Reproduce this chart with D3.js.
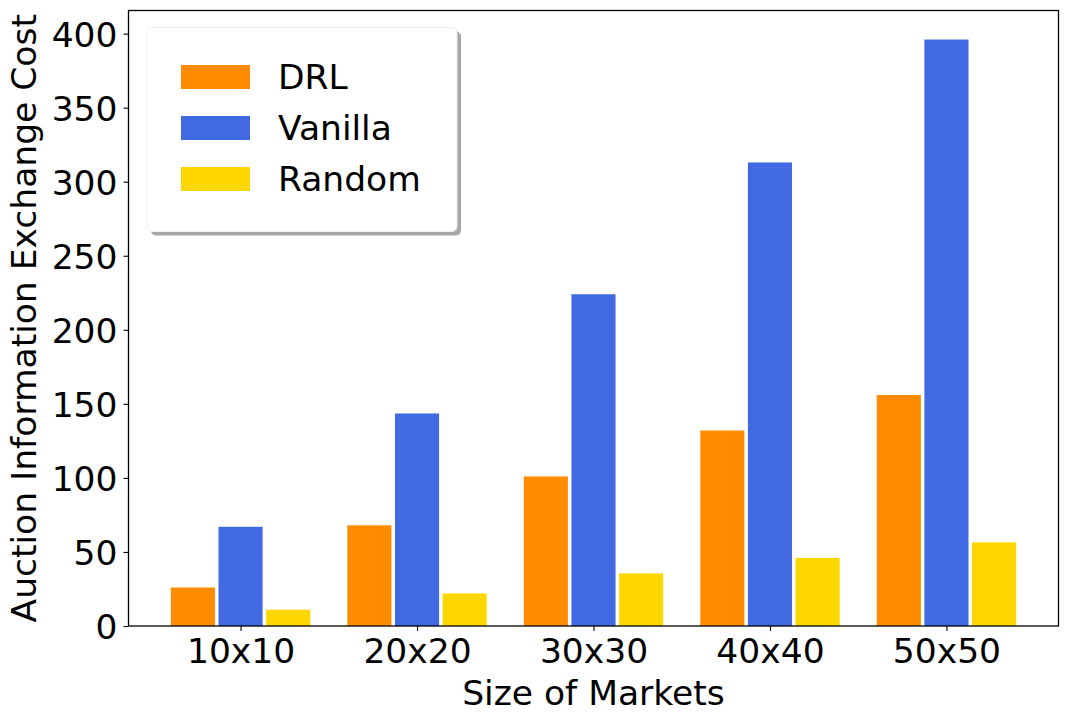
<!DOCTYPE html>
<html>
<head>
<meta charset="utf-8">
<script src="https://cdn.jsdelivr.net/npm/d3@7"></script>
<style>
  body { margin: 0; background: #fff; }
  text { font-family: "DejaVu Sans", sans-serif; }
</style>
</head>
<body>
<div id="chart"></div>
<script>
// chart data
var markets = ["10x10", "20x20", "30x30", "40x40", "50x50"];
var drl     = [26, 68, 101, 132, 156];
var vanilla = [67, 143.5, 224, 313, 396];
var random  = [11, 22, 35.5, 46, 56.5];
var seriesNames = ["DRL", "Vanilla", "Random"];
var yTicks = [0, 50, 100, 150, 200, 250, 300, 350, 400];

var colors = {DRL: "#ff8c00", Vanilla: "#4169e1", Random: "#ffd700"};
var seriesVals = {DRL: drl, Vanilla: vanilla, Random: random};
var offsets = {DRL: -0.27, Vanilla: 0, Random: 0.27};
var barW = 0.25;

var W = 1068, H = 722;
var pLeft = 128.5, pRight = 1058.5, pTop = 10.5, pBottom = 626;
var fs = 34.5;

var svg = d3.select("#chart").append("svg")
    .attr("width", W).attr("height", H);

var x = d3.scaleLinear().domain([-0.635, 4.635]).range([pLeft, pRight]);
var y = d3.scaleLinear().domain([0, 415.6]).range([pBottom, pTop]);

// bars
seriesNames.forEach(function(s){
  svg.append("g").selectAll("rect")
    .data(seriesVals[s])
    .enter().append("rect")
    .attr("x", (d,i) => x(i + offsets[s] - barW/2))
    .attr("width", x(barW) - x(0))
    .attr("y", d => y(d))
    .attr("height", d => y(0) - y(d))
    .attr("fill", colors[s]);
});

// axes
var xAxis = d3.axisBottom(x).tickValues(d3.range(markets.length))
    .tickFormat(i => markets[i]).tickSize(5).tickPadding(6);
var gx = svg.append("g").attr("transform", "translate(0," + pBottom + ")").call(xAxis);
gx.select(".domain").remove();

var yAxis = d3.axisLeft(y).tickValues(yTicks).tickSize(5).tickPadding(6);
var gy = svg.append("g").attr("transform", "translate(" + pLeft + ",0)").call(yAxis);
gy.select(".domain").remove();

[gx, gy].forEach(function(g){
  g.selectAll("text").attr("font-size", fs).attr("font-family", "DejaVu Sans").attr("fill", "#000");
  g.selectAll("line").attr("stroke", "#000").attr("stroke-width", 1.1);
});
gy.selectAll("text").attr("dy", "0.36em");
gx.selectAll("text").attr("dy", "0.76em");

// frame
svg.append("rect")
  .attr("x", pLeft).attr("y", pTop)
  .attr("width", pRight - pLeft).attr("height", pBottom - pTop)
  .attr("fill", "none").attr("stroke", "#000").attr("stroke-width", 1.3);

// axis titles
svg.append("text")
  .attr("x", (pLeft + pRight) / 2).attr("y", 705)
  .attr("text-anchor", "middle").attr("font-size", fs)
  .text("Size of Markets");

svg.append("text")
  .attr("transform", "translate(36," + ((pTop + pBottom) / 2) + ") rotate(-90)")
  .attr("text-anchor", "middle").attr("font-size", fs)
  .text("Auction Information Exchange Cost");

// legend
var lg = svg.append("g");
lg.append("rect")
  .attr("x", 151).attr("y", 31.5).attr("width", 310).attr("height", 204)
  .attr("rx", 5).attr("fill", "#a6a6a6");
lg.append("rect")
  .attr("x", 147).attr("y", 27.5).attr("width", 310).attr("height", 204)
  .attr("rx", 5).attr("fill", "#fff").attr("stroke", "#eeeeee").attr("stroke-width", 1);

seriesNames.forEach(function(s, i){
  var cy = 77 + i * 51;
  lg.append("rect")
    .attr("x", 181).attr("y", cy - 12).attr("width", 69).attr("height", 24)
    .attr("fill", colors[s]);
  lg.append("text")
    .attr("x", 278).attr("y", cy).attr("dy", "0.36em")
    .attr("font-size", fs).text(s);
});
</script>
</body>
</html>
